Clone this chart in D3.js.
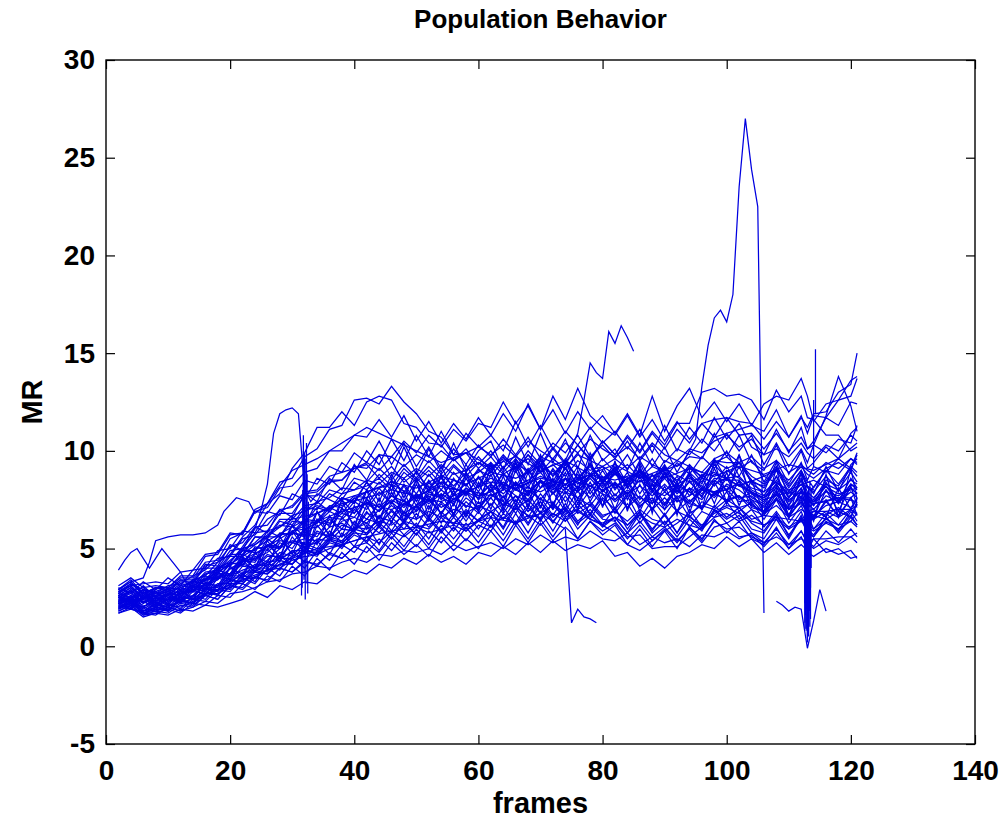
<!DOCTYPE html>
<html>
<head>
<meta charset="utf-8">
<script src="https://cdn.jsdelivr.net/npm/d3@7"></script>
<style>
  body { margin: 0; background: #fff; }
  svg { display: block; font-family: Arial, "Liberation Sans", sans-serif; }
  .axis text { font-size: 28px; font-weight: bold; fill: #000; }
  .axis path { display: none; }
  .axis line { stroke: #000; stroke-width: 1.2; }
  .frame { fill: none; stroke: #000; stroke-width: 1.4; }
  .track { fill: none; stroke: #0000e0; stroke-width: 1.25; stroke-linejoin: miter; }
  .label { font-weight: bold; fill: #000; }
</style>
</head>
<body>
<div id="chart"></div>
<script>
// ---- data ----
const xTicks = [0, 20, 40, 60, 80, 100, 120, 140];
const yTicks = [-5, 0, 5, 10, 15, 20, 25, 30];

// frames at which the regular tracks are sampled
const sampleFrames = [2,4,6,8,10,12,14,16,18,20,22,24,26,28,30,32,34,36,38,40,42,44,46,48,50,52,54,56,58,60,
  62,64,66,68,70,72,74,76,78,80,82,84,86,88,90,92,94,96,98,100,102,104,106,108,110,112,113,114,116,118,120,121];

const track01 = [2.3,2.8,2.0,2.5,2.1,2.9,2.4,3.3,2.8,4.1, 3.5,4.8,4.0,5.6,4.7,6.1,5.2,6.7,5.6,7.2, 6.0,7.6,6.3,7.9,6.5,8.2,6.7,8.0,6.6,8.4, 7.0,8.7,7.2,8.9,7.1,8.6,7.0,9.0,7.4,8.5, 7.0,8.6,6.9,8.3,7.0,8.4,6.8,8.7,7.3,8.9, 7.2,8.5,6.8,8.2,6.7,8.0,6.9,7.0,6.6,8.1,7.0,7.6];
const track02 = [2.7,3.1,2.5,2.6,3.0,2.5,3.3,3.2,4.0,4.1, 4.9,4.8,5.9,5.6,6.6,6.2,7.4,6.9,7.6,7.3, 8.4,7.4,8.8,7.6,9.0,7.9,9.2,8.0,9.3,8.2, 9.4,8.1,9.6,8.3,9.8,8.2,9.5,8.0,9.9,8.6, 9.1,8.2,9.4,8.0,9.2,7.9,8.9,8.3,9.6,8.5, 9.8,8.3,7.9,9.4,7.6,8.9,8.1,7.8,9.2,7.9,9.3,9.6];
const track03 = [2.0,2.4,1.7,1.9,2.2,1.9,2.6,2.4,3.1,2.9, 3.7,3.3,4.3,3.9,4.9,4.3,5.4,4.7,5.8,5.1, 6.2,5.2,6.4,5.7,6.3,5.5,6.6,5.9,6.8,6.0, 6.9,6.1,7.3,6.3,7.4,6.4,7.1,6.2,7.3,6.6, 7.0,6.2,6.9,6.0,6.7,5.8,7.0,6.1,7.2,6.6, 7.1,6.3,5.9,6.8,5.6,6.7,6.0,5.7,6.6,5.9,6.9,6.4];
const track04 = [2.9,3.4,2.7,3.0,2.8,3.4,3.2,4.2,4.1,5.2, 4.9,6.1,5.8,7.0,6.6,7.8,7.4,8.6,8.0,9.3, 8.5,9.8,8.6,10.2,8.8,10.1,8.9,10.4,9.0,10.0, 10.5,9.0,10.7,9.3,10.9,9.4,10.6,9.1,10.8,9.5, 10.1,9.0,10.4,9.2,10.2,8.9,10.0,9.6,10.9,9.7, 10.8,9.4,9.0,10.3,8.8,10.0,9.1,9.4,10.2,9.6,10.9,11.2];
const track05 = [1.8,2.1,1.6,1.7,1.9,1.7,2.2,2.1,2.6,2.5, 3.2,2.9,3.6,3.3,4.1,3.6,4.5,3.9,4.8,4.2, 5.1,4.4,5.3,4.7,5.2,4.6,5.6,4.9,5.5,5.0, 5.9,5.1,6.2,5.3,6.3,5.4,6.1,5.5,6.4,5.7, 6.2,5.2,6.0,5.1,5.9,5.0,6.1,5.4,6.5,5.8, 6.4,5.5,5.2,6.1,5.0,5.9,5.3,5.1,5.9,5.3,6.0,5.6];
const track06 = [2.5,2.2,2.8,2.3,2.7,2.6,2.9,3.0,3.8,3.4, 4.5,4.0,5.2,4.6,5.9,5.0,6.5,5.7,7.1,6.2, 7.6,6.5,7.9,6.8,8.3,7.0,8.4,7.2,8.6,7.5, 8.8,7.4,9.0,7.7,9.2,7.8,8.9,7.5,8.8,7.9, 9.0,7.5,8.7,7.3,8.9,7.4,8.5,7.6,9.1,7.9, 9.2,7.8,7.4,8.7,7.2,8.5,7.6,7.2,8.4,7.4,8.6,8.1];
const track07 = [2.2,2.6,1.9,2.3,1.8,2.5,2.4,2.9,2.9,3.6, 3.6,4.2,4.1,4.8,4.6,5.3,5.0,5.9,5.3,6.4, 5.7,6.7,5.9,6.9,6.1,7.2,6.3,7.3,6.4,7.4, 6.6,7.7,6.8,7.9,6.8,7.9,6.9,8.0,6.7,7.8, 6.8,7.7,6.5,7.5,6.7,7.6,6.6,7.4,7.1,7.9, 6.9,7.4,6.5,7.5,6.3,7.2,6.5,6.9,6.7,7.1,6.6,7.4];
const track08 = [3.0,2.7,3.3,2.9,3.5,3.1,3.9,4.0,4.9,5.0, 5.9,5.8,6.9,6.7,7.8,7.5,8.6,8.3,9.4,8.9, 10.0,9.3,10.6,9.5,10.8,9.7,11.0,9.8,10.9,10.2, 10.8,10.0,11.5,10.2,11.3,10.1,11.0,10.3,11.2,10.4, 11.0,10.1,11.1,9.9,11.3,10.0,11.2,10.4,11.7,10.6, 11.4,10.2,9.8,11.1,9.9,11.2,10.1,10.5,11.7,11.3,12.5,12.4];
const track09 = [1.9,2.3,1.7,1.8,2.0,1.8,2.4,2.3,2.9,2.8, 3.5,3.2,4.0,3.6,4.5,4.0,4.9,4.4,5.2,4.8, 5.6,4.9,5.8,5.1,6.0,5.2,6.2,5.5,6.3,5.6, 6.6,5.7,6.8,5.8,6.9,5.9,7.0,6.0,6.7,6.2, 6.6,5.8,6.8,5.8,6.4,5.6,6.5,5.9,7.0,6.3, 6.7,5.8,5.5,6.5,5.5,6.6,5.8,5.6,6.4,6.0,6.7,6.2];
const track10 = [2.6,3.0,2.4,2.8,2.6,3.1,3.0,3.7,3.8,4.6, 4.6,5.6,5.5,6.4,6.2,7.1,7.0,7.8,7.5,8.4, 8.0,8.8,8.2,9.1,8.5,9.2,8.6,9.3,8.7,9.4, 8.9,9.7,9.0,9.8,8.9,9.6,9.1,9.9,8.8,9.6, 8.9,9.8,8.7,9.6,8.6,9.4,8.8,9.7,9.1,10.0, 8.7,9.8,8.4,9.5,8.3,9.4,8.5,9.2,8.9,9.6,9.1,9.9];
const track11 = [2.4,2.0,2.6,2.1,2.6,2.2,3.0,2.8,3.6,3.4, 4.4,3.8,5.0,4.3,5.6,4.8,6.2,5.4,6.6,5.9, 7.2,6.1,7.4,6.4,7.6,6.5,7.8,6.7,7.9,6.9, 8.2,6.9,8.4,7.1,8.5,7.2,8.6,7.3,8.4,7.2, 8.4,7.0,8.3,7.0,8.2,6.9,8.1,7.0,8.4,7.3, 8.5,7.1,6.9,8.0,6.7,7.9,7.0,6.6,8.0,6.9,8.2,7.2];
const track12 = [1.7,2.0,1.5,1.7,1.6,1.9,1.8,2.1,2.0,2.2, 2.4,2.8,2.5,3.1,2.9,3.3,3.2,3.7,3.5,3.9, 3.7,4.2,4.0,4.5,4.2,4.7,4.3,4.6,4.2,4.8, 4.6,5.1,4.7,5.3,4.8,5.4,4.9,5.2,5.0,5.4, 4.6,4.8,4.1,4.5,4.0,4.6,4.8,5.2,5.0,5.6, 5.1,5.5,4.8,5.3,4.7,5.2,4.9,4.6,5.0,4.7,4.9,4.5];
const track13 = [2.8,3.1,3.2,3.3,3.2,3.8,3.9,4.7,4.8,5.8, 5.7,6.9,6.8,7.7,7.5,8.5,8.3,9.2,8.9,9.9, 9.4,10.5,9.3,10.4,9.2,10.2,9.1,10.1,9.3,10.3, 9.7,10.6,9.8,10.7,9.6,10.4,9.9,10.8,9.7,10.3, 9.6,10.5,9.5,10.3,9.4,10.1,9.8,10.6,10.0,10.9, 10.0,10.8,9.3,10.4,9.2,10.1,9.4,10.3,9.9,10.6,10.4,11.3];
const track14 = [2.6,2.2,2.4,2.1,2.7,2.3,3.1,2.9,3.7,3.6, 4.4,4.3,5.2,5.1,5.8,5.6,6.4,6.2,6.8,6.6, 7.4,6.9,7.5,7.1,7.7,7.3,7.8,7.4,7.9,7.6, 8.3,7.6,8.4,7.8,8.5,7.8,8.3,7.9,8.6,7.9, 8.4,7.8,8.2,7.7,8.3,7.6,8.1,7.7,8.5,8.0, 8.4,7.6,7.3,8.3,7.2,8.1,7.3,7.4,8.2,7.3,8.3,8.0];
const track15 = [2.1,2.5,1.8,2.2,2.0,2.4,2.2,3.0,2.6,3.4, 3.3,4.0,3.8,4.6,4.2,5.0,4.7,5.5,5.0,5.9, 5.3,6.2,5.5,6.4,5.7,6.6,5.9,6.8,6.0,6.9, 6.1,7.1,6.3,7.3,6.4,7.4,6.4,7.3,6.5,7.5, 6.4,7.3,6.3,7.1,6.2,7.0,6.1,6.9,6.6,7.4, 6.5,7.0,6.1,6.9,6.0,6.9,6.1,6.7,6.5,6.9,6.6,7.3];
const track16 = [3.1,3.5,3.0,3.1,3.0,3.6,3.6,4.6,4.7,5.7, 5.8,6.9,7.1,8.1,8.2,8.9,9.1,10.0,10.0,10.8, 10.7,11.6,10.7,11.8,10.5,11.5,10.4,11.4,10.6,11.7, 10.8,11.9,11.0,12.4,11.1,12.1,10.9,12.0,11.1,11.8, 10.9,11.9,10.8,12.8,11.0,12.3,13.2,11.7,12.5,11.5, 12.4,11.3,11.0,12.1,10.7,11.8,10.9,11.8,11.7,12.6,12.8,13.7];
const track17 = [1.9,2.2,1.7,2.0,1.9,2.3,2.2,2.7,2.7,3.2, 3.2,3.8,3.7,4.2,4.2,4.8,4.6,5.4,5.2,6.0, 5.8,6.6,6.4,7.3,7.0,7.8,7.6,8.5,8.2,9.0, 8.7,9.5,8.9,9.8,9.2,10.1,9.3,10.3,9.5,10.5, 9.8,10.7,9.9,10.9,10.1,11.1,10.4,11.4,11.6,11.7, 11.5,11.4,10.6,11.5,10.7,11.7,11.2,11.9,12.0,13.0,13.4,15.0];
const track18 = [2.9,3.3,2.6,3.0,2.9,3.4,3.4,4.1,4.3,5.1, 5.3,6.1,6.2,7.0,7.1,7.8,7.9,8.5,8.5,9.1, 9.3,8.6,9.2,8.4,8.9,8.1,8.6,7.8,8.3,7.5, 8.0,7.2,7.7,6.9,7.4,6.6,7.1,6.3,6.8,6.1, 6.6,5.8,6.4,5.6,6.1,5.4,6.0,5.3,6.1,6.3, 5.6,5.7,5.1,5.8,5.0,5.6,4.9,5.5,4.8,5.0,4.5,4.6];
const track19 = [2.3,2.9,2.2,2.8,2.1,2.8,2.8,3.4,3.5,3.7, 4.6,4.0,5.4,4.5,6.2,5.0,6.9,5.6,7.5,6.0, 8.0,6.2,8.3,6.4,8.6,6.6,8.8,6.7,8.9,6.9, 9.3,7.0,9.5,7.1,9.6,7.0,9.4,6.9,9.7,7.1, 9.5,6.9,9.3,6.8,9.2,6.7,9.0,7.0,9.5,7.3, 9.8,7.2,6.9,9.1,6.5,8.9,7.0,6.4,8.8,6.6,9.1,7.5];
const track20 = [2.5,2.9,2.2,2.5,2.4,3.0,2.8,3.5,3.5,4.2, 4.3,5.0,5.1,5.7,5.8,6.5,6.4,7.2,7.1,7.7, 7.6,8.4,7.7,8.6,7.8,8.8,8.0,8.9,8.2,9.1, 8.3,9.2,8.2,9.1,8.1,9.0,8.0,8.8,7.8,8.7, 7.7,8.5,7.5,8.3,7.3,8.2,7.1,8.0,7.7,8.6, 7.5,7.9,6.8,7.8,6.6,7.6,6.8,6.5,7.5,6.6,7.6,6.7];
const track21 = [2.2,1.9,2.5,2.0,2.4,2.2,2.8,2.7,3.2,3.2, 3.8,3.8,4.3,4.4,4.9,4.9,5.5,5.4,6.0,5.9, 6.5,6.3,6.9,6.4,7.2,6.6,7.4,6.8,7.6,7.1, 7.8,7.2,8.1,7.5,8.4,7.8,8.6,7.9,8.8,8.1, 8.9,8.2,9.1,8.3,9.2,8.4,9.3,8.6,9.5,9.4, 9.4,8.7,8.3,9.2,8.2,9.0,8.4,8.1,9.0,8.8,9.6,9.4];
const track22 = [1.8,2.1,1.6,1.8,1.7,2.1,2.0,2.6,2.4,3.1, 2.9,3.5,3.4,4.0,3.8,4.3,4.2,4.7,4.5,5.1, 5.3,4.8,5.6,4.9,5.8,5.0,5.9,5.2,6.1,5.3, 6.2,5.4,6.4,5.5,6.5,5.6,6.6,5.5,6.4,5.9, 6.3,5.5,6.2,5.4,6.0,5.3,6.1,5.5,6.4,6.0, 6.1,5.6,5.3,6.0,5.2,5.9,5.3,5.5,5.5,5.6,5.6,5.8];
const track23 = [2.5,2.8,2.6,2.7,2.5,2.9,2.8,3.6,3.4,4.3, 4.1,5.1,4.9,5.8,5.7,6.4,6.3,7.1,6.8,7.6, 7.2,8.1,7.3,8.3,7.4,8.5,7.6,8.6,7.7,8.7, 7.9,8.9,8.0,9.0,8.1,9.1,8.2,9.2,8.0,9.0, 8.0,8.9,7.8,8.8,7.9,8.7,7.7,8.6,8.4,9.2, 8.2,8.5,7.7,8.7,7.6,8.5,7.7,7.5,8.5,8.2,9.1,8.7];
const track24 = [2.7,3.1,2.4,3.0,2.8,3.3,3.3,4.0,4.0,4.9, 5.0,5.8,5.9,6.8,6.8,7.7,7.7,8.4,8.5,9.2, 9.1,9.8,9.7,10.5,9.9,10.8,10.2,11.1,10.5,11.4, 11.2,12.5,11.4,12.3,11.1,12.8,11.6,13.2,11.8,11.2, 10.8,11.8,10.7,11.6,10.5,11.5,10.6,11.4,10.7,11.7, 10.8,10.9,10.1,10.9,10.0,10.7,10.1,10.3,11.8,13.8,12.3,11.0];
const track25 = [2.0,2.3,1.8,2.0,1.9,2.3,2.2,2.8,2.6,3.4, 3.2,3.9,3.7,4.4,4.2,4.9,4.7,5.3,5.1,5.7, 5.4,6.1,5.5,6.3,5.7,6.5,5.8,6.6,5.9,6.5, 6.9,6.0,7.1,6.2,7.2,6.3,7.3,6.4,7.0,6.2, 7.1,6.0,6.9,5.9,6.8,5.8,6.7,6.0,7.0,6.5, 6.9,6.0,5.8,6.7,5.7,6.5,5.8,5.6,6.6,5.8,6.6,6.2];
const track26 = [2.4,2.7,2.2,2.6,2.2,2.8,2.5,3.2,3.1,4.0, 3.7,4.6,4.3,5.3,5.0,5.9,5.6,6.5,6.0,7.0, 6.5,7.3,6.6,7.5,6.9,7.6,6.8,7.8,7.1,7.9, 7.2,8.1,7.4,8.2,7.5,8.3,7.4,8.2,7.6,8.4, 7.5,8.2,7.3,8.0,7.2,8.1,7.4,8.0,7.9,8.2, 7.6,7.7,7.1,7.9,7.0,7.7,7.1,7.3,7.4,7.6,7.6,7.9];
const track27 = [2.1,2.5,1.8,2.1,2.0,2.6,2.4,2.9,2.8,3.5, 3.5,4.0,4.0,4.5,4.5,5.1,4.9,5.6,5.4,6.0, 6.3,5.8,6.6,6.0,6.8,6.1,6.9,6.2,7.0,6.4, 7.3,6.5,7.5,6.6,7.6,6.7,7.7,6.8,7.2,6.5, 6.4,5.6,5.7,5.0,5.1,5.1,5.6,6.1,6.9,7.2, 7.1,6.5,6.7,6.6,6.5,6.4,6.6,6.0,6.8,6.2,7.0,6.7];
const track28 = [2.6,3.0,2.5,2.9,2.7,3.2,3.1,3.8,3.9,4.7, 4.7,5.6,5.6,6.5,6.5,7.2,7.3,8.0,7.8,8.6, 8.4,9.1,8.5,9.3,8.6,9.5,8.8,9.6,8.9,9.7, 9.0,9.8,9.1,10.0,9.3,10.2,9.4,10.3,9.6,10.5, 9.8,10.8,10.0,11.0,10.3,11.4,11.4,13.0,13.2,12.8, 12.9,12.6,11.6,13.1,12.0,12.8,11.7,11.6,10.8,10.8,10.0,10.2];
const track29 = [2.3,1.9,2.6,2.1,2.4,2.3,2.9,2.6,3.5,3.3, 4.1,4.0,4.6,4.6,5.3,5.1,5.8,5.6,6.2,6.0, 6.9,6.1,7.0,6.3,7.2,6.4,7.3,6.6,7.4,6.8, 7.6,6.8,7.7,6.9,7.8,7.0,7.9,7.1,8.0,7.2, 7.8,7.1,7.7,7.0,7.6,6.9,7.5,7.0,7.9,7.4, 7.7,7.0,6.7,7.6,6.6,7.5,6.8,6.5,7.4,6.7,7.6,7.1];
const track30 = [2.5,2.1,2.8,2.2,2.7,2.4,3.1,2.9,3.7,3.7, 4.5,4.4,5.2,5.0,5.8,5.7,6.5,6.3,7.0,6.8, 7.5,7.1,7.7,7.2,7.8,7.4,8.0,7.5,8.1,7.7, 8.3,7.8,8.4,7.9,8.5,8.0,8.6,8.1,8.7,8.2, 8.8,8.3,9.0,8.5,9.5,9.2,9.7,9.6,10.7,10.9, 11.1,11.3,12.4,12.8,12.6,13.7,12.8,11.5,12.4,12.6,13.6,13.8];
const track31 = [1.9,2.2,1.7,1.9,1.8,2.2,2.1,2.6,2.4,3.1, 3.0,3.6,3.3,4.0,3.8,4.4,4.1,4.8,4.5,5.1, 4.8,5.5,4.9,5.7,5.1,5.9,5.3,6.1,5.4,6.2, 5.9,6.8,6.2,7.1,6.5,7.3,6.7,7.5,6.8,7.6, 7.0,7.8,7.1,7.9,7.2,8.0,7.3,8.1,7.9,8.0, 7.4,7.5,6.8,7.6,6.7,7.4,6.8,6.9,6.9,7.0,7.0,7.2];
const track32 = [2.8,2.4,3.1,2.5,2.9,2.7,3.4,3.4,4.1,4.1, 4.9,4.9,5.6,5.6,6.4,6.3,7.1,6.9,7.6,7.4, 8.4,7.7,8.5,7.9,8.6,8.0,8.8,8.2,8.9,8.1, 9.3,8.2,9.4,8.3,9.5,8.4,9.6,8.5,9.3,8.4, 9.4,8.3,9.5,8.4,9.3,8.2,9.2,8.4,9.5,9.1, 9.4,8.4,8.2,9.1,8.1,9.0,8.2,8.0,9.0,8.3,9.2,8.9];
const track33 = [2.7,3.2,2.7,3.0,3.0,3.5,3.5,4.3,4.4,5.5, 5.8,7.0,7.3,8.4,8.6,9.7,10.1,11.1,11.3,12.6, 12.7,12.4,13.3,12.5,11.9,11.0,10.7,9.8,9.9,9.1, 9.7,8.9,9.6,8.8,9.5,8.7,9.4,8.6,9.3,8.5, 9.1,8.3,9.0,8.2,8.8,8.1,8.7,8.0,8.8,8.6, 8.7,8.0,7.7,8.5,7.6,8.3,7.7,7.4,8.2,7.5,8.3,8.1];
const track34 = [2.6,2.3,2.9,2.5,3.0,2.9,3.4,3.6,4.3,4.7, 5.6,6.2,7.3,7.8,9.1,9.9,11.2,11.2,12.0,11.3, 12.5,12.8,12.6,11.4,11.2,10.4,10.3,9.5,10.1,9.3, 10.0,9.1,9.8,8.9,9.6,8.7,9.5,8.6,9.2,8.4, 9.0,8.1,8.8,7.9,8.6,7.8,8.4,7.8,8.6,8.5, 8.5,7.8,7.6,8.3,7.4,8.1,7.5,7.2,8.0,7.3,8.1,7.8];
const track35 = [2.6,2.3,2.4,2.8,2.3,2.7,3.0,3.1,3.4,4.0, 4.2,4.7,5.1,5.0,5.9,6.0,6.3,6.9,6.6,7.4, 7.0,7.9,7.3,8.2,7.2,8.4,7.5,8.1,7.8,8.6, 8.0,8.8,8.2,8.5,8.9,8.1,9.1,8.3,8.7,9.2, 8.1,8.6,8.9,8.0,8.7,8.3,7.9,8.8,8.2,9.0, 8.6,8.1,7.9,8.4,7.8,8.6,7.9,7.6,8.3,8.0,8.5,8.3];
const track36 = [2.2,2.6,2.3,2.0,2.5,2.4,2.6,3.0,3.0,3.6, 3.9,4.1,4.7,4.5,5.3,5.5,5.4,6.1,6.3,5.9, 6.8,6.6,7.2,6.7,6.9,7.5,6.8,7.6,7.2,7.0, 7.8,7.4,7.1,8.0,7.5,7.3,8.1,7.6,7.2,8.0, 7.4,7.9,7.2,7.6,7.0,7.7,7.3,7.1,7.8,7.5, 7.7,7.2,6.9,7.5,7.0,7.3,6.9,6.7,7.2,7.4,7.1,7.5];
const track37 = [2.7,2.5,2.9,2.8,2.6,3.1,3.3,3.4,4.0,4.3, 5.0,5.2,5.7,6.2,6.1,6.9,7.2,7.0,7.8,8.0, 8.2,8.6,8.0,8.9,8.4,9.0,8.3,9.2,8.6,8.9, 9.4,8.8,9.2,9.6,8.9,9.3,8.7,9.5,9.0,9.2, 8.8,9.3,8.6,9.2,8.9,8.5,9.1,8.7,9.4,9.7, 9.1,9.5,8.7,9.0,8.5,9.2,8.8,8.6,9.1,9.4,9.0,9.8];
const track38 = [2.1,1.9,2.3,2.0,1.8,2.4,2.2,2.7,2.9,3.0, 3.6,3.5,4.2,4.1,4.6,4.9,4.8,5.5,5.3,5.8, 5.7,6.3,5.8,6.4,6.2,6.0,6.7,6.3,6.9,6.4, 6.9,6.5,7.1,6.7,6.6,7.3,6.8,7.0,7.4,6.7, 6.9,6.4,7.0,6.5,6.3,6.9,6.6,6.2,6.8,7.1, 6.8,6.4,6.2,6.6,6.1,6.5,6.3,6.0,6.5,6.2,6.4,6.8];
const track39 = [2.8,3.2,2.9,2.7,3.1,3.2,3.6,3.9,4.5,4.6, 5.5,5.7,6.5,6.9,7.2,7.9,8.0,8.7,8.9,9.1, 9.4,9.0,9.7,9.2,9.8,9.4,10.0,9.5,9.9,10.2, 9.8,10.3,9.7,10.5,10.0,9.6,10.4,9.9,10.6,10.1, 9.7,10.2,9.6,10.4,9.8,9.5,10.1,9.9,10.5,10.8, 10.2,10.6,9.8,10.1,9.7,10.4,9.9,9.6,10.3,10.0,10.8,10.5];
const track40 = [1.7,1.9,1.7,1.6,2.0,1.8,2.0,2.3,2.2,2.7, 2.8,3.0,3.3,3.4,3.7,3.8,4.1,4.0,4.3,4.5, 4.3,4.7,4.6,4.9,4.8,5.0,4.7,5.2,4.9,5.1, 5.3,5.0,5.5,5.2,5.7,5.3,5.6,5.4,5.9,5.5, 5.4,5.8,5.2,5.6,5.3,5.5,5.1,5.7,5.6,5.9, 5.5,5.8,5.3,5.6,5.2,5.5,5.3,5.0,5.4,5.2,5.6,5.3];
const track41 = [2.5,2.3,2.0,2.4,2.6,2.3,2.6,3.2,3.1,3.7, 4.2,4.0,4.4,5.0,5.4,5.2,5.9,5.6,6.4,6.6, 6.3,7.0,7.4,6.8,7.2,7.7,7.1,7.5,7.9,7.3, 7.6,8.2,7.7,7.4,8.1,8.5,7.9,7.6,8.2,7.8, 7.5,8.0,7.6,7.3,7.9,7.4,7.7,8.1,7.6,8.3, 8.0,7.5,7.2,7.8,7.1,7.6,7.3,7.0,7.7,7.4,7.9,7.6];
const track42 = [2.3,2.5,2.7,2.2,2.4,2.7,2.8,3.1,3.6,3.6, 4.3,4.5,4.8,5.4,5.3,6.0,6.1,6.6,6.5,7.1, 7.3,6.9,7.7,7.4,7.1,7.9,7.6,7.3,8.1,7.7, 7.9,8.4,8.0,7.7,8.5,8.1,7.8,8.6,8.2,8.0, 8.3,7.8,8.5,8.0,7.7,8.2,7.9,7.5,8.3,8.6, 8.2,7.9,7.6,8.1,7.5,7.9,7.6,7.4,7.9,7.7,8.1,7.8];
const track43 = [2.2,2.4,2.1,2.0,2.3,2.5,2.4,2.9,3.1,3.3, 3.7,4.0,4.3,4.5,4.8,5.1,5.3,5.7,5.6,6.1, 6.0,6.4,6.2,6.7,6.5,6.9,6.6,7.0,6.8,7.2, 6.9,7.3,7.0,7.5,6.8,7.2,6.6,7.0,6.5,6.2, 5.8,5.2,4.9,5.4,5.9,6.3,6.8,7.2,7.0,7.5, 7.1,7.3,6.8,7.2,6.6,7.0,6.8,6.5,6.9,6.6,7.0,6.8];
const track44 = [2.6,2.8,3.0,2.6,2.8,3.0,3.3,3.7,3.9,4.4, 4.9,5.3,5.9,6.1,6.7,6.9,7.4,7.6,8.1,8.0, 8.5,8.3,8.9,8.6,9.1,8.7,9.3,8.8,9.0,9.4, 9.1,9.6,9.3,9.0,9.7,9.4,9.1,9.8,9.5,9.2, 9.6,9.1,9.7,9.3,9.0,9.5,9.2,8.9,9.6,9.9, 9.4,9.7,9.1,9.5,8.9,9.3,9.0,8.8,9.4,9.1,9.6,9.3];
const track45 = [2.0,2.2,2.0,1.8,2.1,2.0,2.3,2.6,2.7,3.0, 3.4,3.5,3.9,4.0,4.4,4.6,4.7,5.0,5.2,5.4, 5.6,5.3,5.9,5.6,6.1,5.8,6.0,6.2,5.9,6.4, 6.1,6.6,6.3,6.7,6.2,6.8,6.4,6.9,6.5,6.3, 6.6,6.2,6.7,6.3,6.1,6.5,6.2,6.0,6.6,6.8, 6.4,6.7,6.2,6.5,6.0,6.4,6.1,5.9,6.3,6.0,6.4,6.1];
const track46 = [2.6,2.4,2.9,2.3,2.8,2.5,3.2,3.0,3.9,3.7, 4.7,4.4,5.5,5.0,6.2,5.6,6.9,6.1,7.5,6.8, 8.0,7.1,8.3,7.4,8.5,7.5,8.7,7.7,8.8,7.9, 9.0,8.0,9.2,8.1,9.3,8.2,9.1,8.0,9.4,8.3, 9.2,8.1,9.0,8.0,8.9,7.9,8.8,8.1,9.3,8.6, 9.4,8.5,8.1,9.0,7.9,8.8,8.2,7.9,8.7,8.0,8.9,8.4];

// brief one-off excursions: [track number, frame, value]
const frameJumps = [
  [1,31.8,10.0], [4,32.2,9.6], [7,31.6,3.0], [11,32.4,8.8], [14,31.9,9.2], [19,32.1,2.4], [22,32.5,2.7],
  [26,31.7,8.0], [29,32.3,10.4], [32,31.9,3.4], [6,32.6,7.4], [36,32.0,9.9], [38,31.5,2.6], [41,32.2,8.5],
  [45,32.4,3.2], [42,31.8,10.8], [10,32.0,6.2], [30,32.5,4.6],
  [1,112.6,1.2], [3,113.0,0.4], [5,113.3,2.0], [7,112.8,0.9], [9,113.5,3.0], [12,112.7,1.6], [15,113.1,0.6],
  [20,113.4,2.5], [23,112.9,3.5], [27,113.2,1.1], [29,112.6,2.2], [32,113.6,4.0], [25,113.0,0.2],
  [36,113.3,1.8], [38,112.8,0.8], [41,113.1,2.8], [43,113.5,1.4], [46,112.7,3.3], [2,113.2,0.5],
  [14,112.9,1.9], [21,113.4,1.0], [35,113.0,2.4], [42,112.6,0.9],
  [17,114.3,15.2], [10,114.0,12.6]
];

// tracks with their own frames
const towerFrames = [2,6,10,14,18,20,22,24,25,26,27,28,29,30,31,32,33,34,38,42,46,50,54,58,62,66,70,74,78,82,86,90,94,98,102,106,110,114,118,121];
const towerValues = [2.2,2.5,2.4,3.0,3.7,4.3,5.1,6.0,7.0,8.3,10.9,11.9,12.1,12.2,11.9,8.0,7.4,7.8,7.2,7.9,8.3,7.6,8.4,7.8,8.6,8.0,8.7,8.1,8.8,8.2,8.9,8.0,8.6,7.8,8.3,7.5,7.9,7.3,7.6,7.4];

const peakFrames = [2,6,10,14,18,22,26,30,34,38,42,46,50,54,58,62,66,70,74,78,82,86,90,93,95,96,97,98,99,100,101,102,103,104,105,106];
const peakValues = [2.5,2.3,2.4,2.9,3.5,4.4,5.1,5.9,6.4,6.9,7.3,7.0,7.6,7.4,8.0,7.7,8.3,7.9,8.6,8.2,8.8,8.4,9.0,9.4,10.6,13.3,15.4,16.8,17.2,16.6,18.0,23.5,27.0,24.4,22.5,1.7];

const shortFrames = [2,6,10,14,18,22,26,30,34,38,42,46,50,54,58,62,66,70,72,74,75,76,77,78,79,80,81,82,83,84,85];
const shortValues = [2.2,2.5,2.6,3.1,3.8,4.6,5.4,6.1,6.8,7.5,7.9,8.4,8.1,8.7,8.3,8.9,8.6,9.2,8.8,9.5,10.2,10.9,12.6,14.5,14.0,13.7,16.1,15.5,16.4,15.8,15.1];

const dropFrames = [2,6,10,14,18,22,26,30,34,38,42,46,50,54,58,62,66,70,72,74,75,76,77,78,79];
const dropValues = [2.0,1.8,2.1,2.4,2.9,3.4,3.9,4.5,5.0,5.2,5.6,5.9,6.1,6.4,6.2,6.6,6.3,6.8,6.4,6.0,1.2,1.9,1.5,1.4,1.2];

const lateFrames = [108,109,110,111,112,113,114,115,116];
const lateValues = [2.3,2.1,1.8,2.0,1.9,-0.1,1.3,2.9,1.8];

const earlyFrames = [2,3,4,5,6,7,8,9,10,11,12,13,14,16,18,20,22,24,26,28,30,34,38,42,46,50,54,58,62,66,70,74,78,82,86,90,94,98,102,106,110,114,118,121];
const earlyValues = [3.9,4.4,4.8,5.0,4.5,4.0,4.5,5.0,4.6,4.2,3.8,3.2,3.1,3.4,3.8,4.2,4.7,5.2,5.6,6.1,6.5,6.8,7.3,7.6,8.0,7.7,8.2,7.9,8.4,8.1,8.6,8.3,8.8,8.5,8.9,8.6,9.1,8.7,9.2,8.8,9.3,9.0,9.6,10.4];

const riserFrames = [2,4,6,7,8,10,12,14,16,18,19,21,23,24,26,28,30,34,38,42,46,50,54,58,62,66,70,74,78,82,86,90,94,98,102,106,110,114,118,121];
const riserValues = [2.9,3.3,3.5,4.3,5.4,5.6,5.7,5.7,5.8,6.2,6.9,7.6,7.4,6.8,7.3,8.2,9.0,9.6,10.4,11.2,10.6,10.0,9.4,9.9,9.2,9.7,9.0,9.5,8.8,9.3,8.6,9.1,8.4,8.9,8.2,8.7,8.0,8.5,7.8,8.1];

const regularTracks = [track01, track02, track03, track04, track05, track06, track07, track08, track09, track10,
  track11, track12, track13, track14, track15, track16, track17, track18, track19, track20,
  track21, track22, track23, track24, track25, track26, track27, track28, track29, track30,
  track31, track32, track33, track34, track35, track36, track37, track38, track39, track40,
  track41, track42, track43, track44, track45, track46];

const ownFrameTracks = [
  [towerFrames, towerValues], [earlyFrames, earlyValues], [riserFrames, riserValues],
  [peakFrames, peakValues], [shortFrames, shortValues], [dropFrames, dropValues], [lateFrames, lateValues]
];


class PopulationPlot {

  constructor(_config) {
    this.config = {
      parentElement: _config.parentElement,
      containerWidth: 1004,
      containerHeight: 822
    }

    this.config.margin = _config.margin || { top: 60, right: 29, bottom: 78, left: 106 };

    this.initVis();
  }

  initVis() {
    let vis = this;

    vis.width = vis.config.containerWidth - vis.config.margin.left - vis.config.margin.right;
    vis.height = vis.config.containerHeight - vis.config.margin.top - vis.config.margin.bottom;

    vis.svgContainer = d3.select(vis.config.parentElement).append("svg")
        .attr("width", vis.config.containerWidth)
        .attr("height", vis.config.containerHeight);

    vis.svg = vis.svgContainer.append("g")
        .attr("transform", "translate(" + vis.config.margin.left + "," + vis.config.margin.top + ")");

    vis.xScale = d3.scaleLinear().domain([0, 140]).range([0, vis.width]);
    vis.yScale = d3.scaleLinear().domain([-5, 30]).range([vis.height, 0]);

    vis.focus = vis.svg.append("g");

    vis.line = d3.line()
        .x(d => vis.xScale(d[0]))
        .y(d => vis.yScale(d[1]));

    // axes: ticks point inward on all four sides, labels only bottom / left
    vis.xAxis = d3.axisBottom(vis.xScale).tickValues(xTicks)
        .tickSizeInner(-9).tickSizeOuter(0).tickPadding(16).tickFormat(d => String(d));
    vis.xAxisTop = d3.axisTop(vis.xScale).tickValues(xTicks)
        .tickSizeInner(-9).tickSizeOuter(0).tickFormat(() => "");
    vis.yAxis = d3.axisLeft(vis.yScale).tickValues(yTicks)
        .tickSizeInner(-9).tickSizeOuter(0).tickPadding(11).tickFormat(d => String(d));
    vis.yAxisRight = d3.axisRight(vis.yScale).tickValues(yTicks)
        .tickSizeInner(-9).tickSizeOuter(0).tickFormat(() => "");

    vis.xAxisGroup = vis.svg.append("g").attr("class", "axis axis--x")
        .attr("transform", "translate(0," + vis.height + ")");
    vis.xAxisTopGroup = vis.svg.append("g").attr("class", "axis");
    vis.yAxisGroup = vis.svg.append("g").attr("class", "axis axis--y");
    vis.yAxisRightGroup = vis.svg.append("g").attr("class", "axis")
        .attr("transform", "translate(" + vis.width + ",0)");

    vis.svg.append("rect")
        .attr("class", "frame")
        .attr("width", vis.width)
        .attr("height", vis.height);

    vis.svgContainer.append("text")
        .attr("class", "label")
        .attr("x", vis.config.margin.left + vis.width / 2)
        .attr("y", 28)
        .attr("text-anchor", "middle")
        .style("font-size", "26px")
        .text("Population Behavior");

    vis.svgContainer.append("text")
        .attr("class", "label")
        .attr("x", vis.config.margin.left + vis.width / 2)
        .attr("y", 813)
        .attr("text-anchor", "middle")
        .style("font-size", "29px")
        .text("frames");

    vis.svgContainer.append("text")
        .attr("class", "label")
        .attr("transform", "translate(42," + (vis.config.margin.top + vis.height / 2) + ") rotate(-90)")
        .attr("text-anchor", "middle")
        .style("font-size", "29px")
        .text("MR");
  }

  wrangleData() {
    let vis = this;

    vis.data = [];

    // regular tracks; an excursion is drawn as a vertical stroke at its own frame,
    // hung on the nearest sampled point of that track
    regularTracks.forEach((values, i) => {
      let pts = [];
      values.forEach((v, j) => {
        let f = sampleFrames[j];
        pts.push([f, v]);
        frameJumps.filter(g => g[0] === i + 1 &&
            d3.least(sampleFrames, s => Math.abs(s - g[1])) === f)
          .forEach(g => {
            pts.push([g[1], v]);
            pts.push([g[1], g[2]]);
            pts.push([g[1], v]);
          });
      });
      vis.data.push(pts);
    });

    ownFrameTracks.forEach(t => {
      vis.data.push(t[0].map((f, j) => [f, t[1][j]]));
    });

    vis.updateVis();
  }

  updateVis() {
    let vis = this;

    vis.xAxisGroup.call(vis.xAxis);
    vis.xAxisTopGroup.call(vis.xAxisTop);
    vis.yAxisGroup.call(vis.yAxis);
    vis.yAxisRightGroup.call(vis.yAxisRight);

    let track = vis.focus.selectAll(".track").data(vis.data);

    track.enter().append("path")
        .attr("class", "track")
      .merge(track)
        .attr("d", vis.line);

    track.exit().remove();
  }
}

const plot = new PopulationPlot({ parentElement: "#chart" });
plot.wrangleData();
</script>
</body>
</html>
